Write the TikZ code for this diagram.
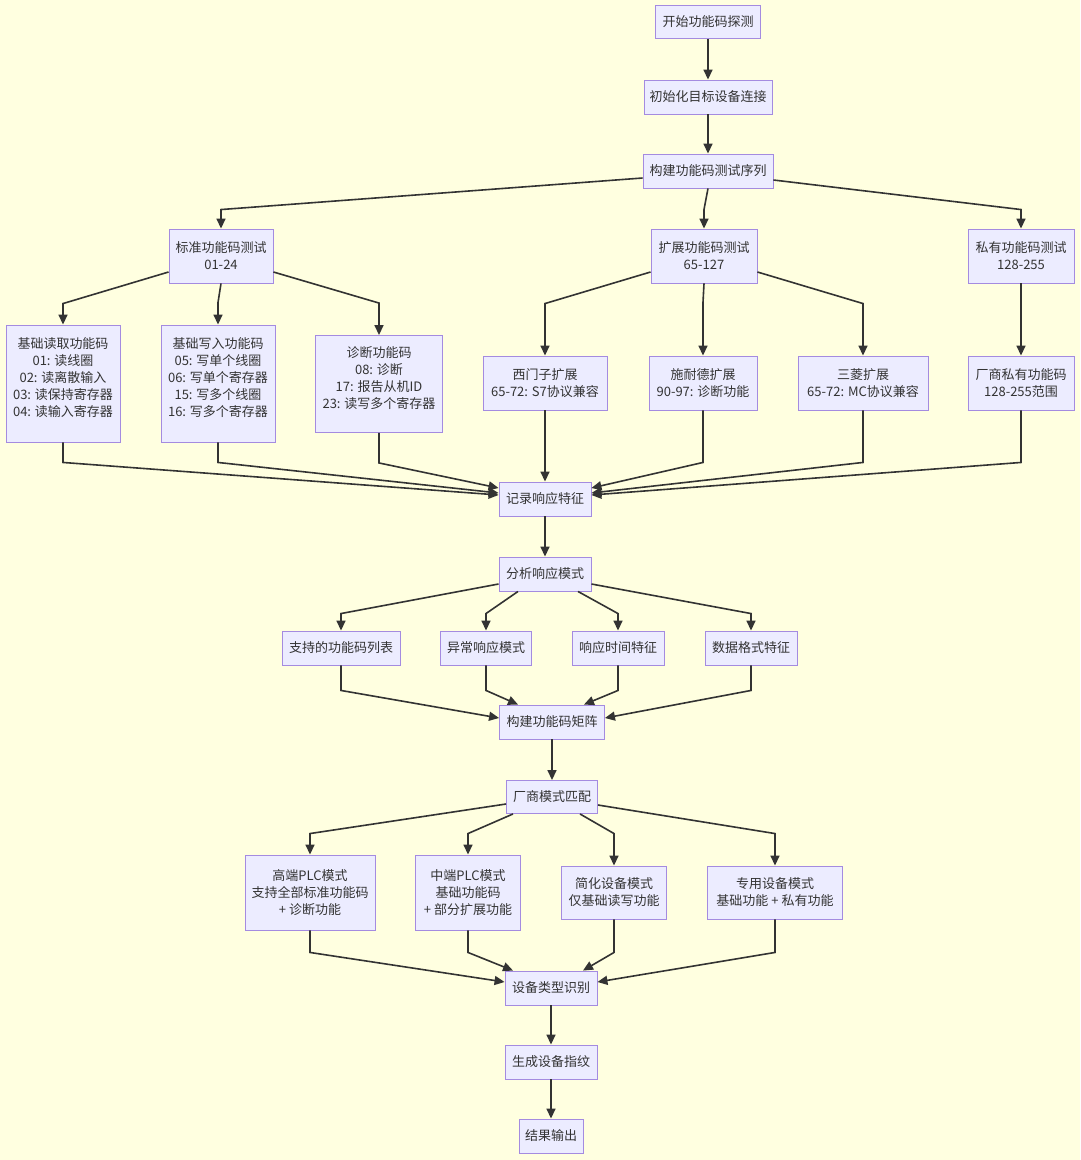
\documentclass[tikz,border=0pt]{standalone}
\usepackage{fontspec}
\setmainfont{Noto Sans CJK SC}
\usepackage{xcolor}
\usepackage{tikz}
\usetikzlibrary{positioning,calc,arrows.meta}
\definecolor{bgyellow}{HTML}{FFFFE0}
\definecolor{boxfill}{HTML}{ECECFF}
\definecolor{boxline}{HTML}{A48BE0}
\definecolor{linegray}{HTML}{333333}
\tikzset{
    box/.style={draw=boxline, fill=boxfill, line width=0.9pt, text=linegray,
        align=center, inner sep=3pt, font=\fontsize{13pt}{17pt}\selectfont},
    boxsize/.style 2 args={minimum width=#1pt, minimum height=#2pt},
    flow/.style={draw=linegray, line width=1.6pt, -{Triangle[length=10pt,width=9pt]}},
}

\begin{document}
\begin{tikzpicture}[x=1pt, y=-1pt]
    \fill[bgyellow] (0,0) rectangle (1080,1160);

    % probing set-up
    \node[box, boxsize={105}{33}] (start) at (708,22) {开始功能码探测};
    \node[box, boxsize={128}{34}] (init) at (708,97) {初始化目标设备连接};
    \node[box, boxsize={130}{34}] (build) at (708,171) {构建功能码测试序列};

    \node[box, boxsize={104}{54}] (std) at (221,256) {标准功能码测试\\01-24};
    \node[box, boxsize={106}{54}] (ext) at (704,256) {扩展功能码测试\\65-127};
    \node[box, boxsize={106}{54}] (priv) at (1021,256) {私有功能码测试\\128-255};

    \node[box, boxsize={114}{117}] (read) at (63,383.5) {基础读取功能码\\01: 读线圈\\02: 读离散输入\\03: 读保持寄存器\\04: 读输入寄存器\\[-5pt]\mbox{}};
    \node[box, boxsize={114}{117}] (write) at (218,383.5) {基础写入功能码\\05: 写单个线圈\\06: 写单个寄存器\\15: 写多个线圈\\16: 写多个寄存器\\[-5pt]\mbox{}};
    \node[box, boxsize={127}{97}] (diag) at (379,384) {诊断功能码\\08: 诊断\\17: 报告从机ID\\23: 读写多个寄存器\\[-5pt]\mbox{}};
    \node[box, boxsize={124}{54}] (siemens) at (545,383) {西门子扩展\\65-72: S7协议兼容};
    \node[box, boxsize={108}{54}] (schneider) at (703,383) {施耐德扩展\\90-97: 诊断功能};
    \node[box, boxsize={130}{54}] (mitsubishi) at (863,383) {三菱扩展\\65-72: MC协议兼容};
    \node[box, boxsize={106}{54}] (vendor) at (1021,383) {厂商私有功能码\\128-255范围};

    % response analysis
    \node[box, boxsize={92}{34}] (record) at (545,499) {记录响应特征};
    \node[box, boxsize={92}{34}] (analyze) at (545,574) {分析响应模式};
    \node[box, boxsize={118}{34}] (support) at (341,648) {支持的功能码列表};
    \node[box, boxsize={91}{34}] (abnormal) at (486,648) {异常响应模式};
    \node[box, boxsize={92}{34}] (timing) at (618,648) {响应时间特征};
    \node[box, boxsize={92}{34}] (format) at (751,648) {数据格式特征};
    \node[box, boxsize={105}{34}] (matrix) at (552,722) {构建功能码矩阵};

    % device matching
    \node[box, boxsize={91}{33}] (vendmatch) at (552,797) {厂商模式匹配};
    \node[box, boxsize={130}{75}] (high) at (310,892.5) {高端PLC模式\\支持全部标准功能码\\+ 诊断功能};
    \node[box, boxsize={105}{75}] (mid) at (468,892.5) {中端PLC模式\\基础功能码\\+ 部分扩展功能};
    \node[box, boxsize={105}{53}] (simple) at (614,892.5) {简化设备模式\\仅基础读写功能};
    \node[box, boxsize={135}{53}] (special) at (775,892.5) {专用设备模式\\基础功能 + 私有功能};
    \node[box, boxsize={92}{34}] (devtype) at (551,988) {设备类型识别};
    \node[box, boxsize={92}{34}] (fingerprint) at (551,1062) {生成设备指纹};
    \node[box, boxsize={64}{34}] (result) at (551,1136) {结果输出};

    % straight links
    \foreach \a/\b in {start/init, init/build, priv/vendor, siemens/record, record/analyze,
        matrix/vendmatch, devtype/fingerprint, fingerprint/result}
        \draw[flow] (\a) -- (\b);

    % fan out from the test sequence
    \draw[flow] ([yshift=-7pt]build.west) -- ($(std.north)+(0,-19)$) -- (std.north);
    \draw[flow] (build.south) -- ($(ext.north)+(0,-19)$) -- (ext.north);
    \draw[flow] ([yshift=-9pt]build.east) -- ($(priv.north)+(0,-19)$) -- (priv.north);

    \draw[flow] ([yshift=-16pt]std.west) -- ($(read.north)+(0,-21)$) -- (read.north);
    \draw[flow] (std.south) -- ($(write.north)+(0,-22)$) -- (write.north);
    \draw[flow] ([yshift=-16pt]std.east) -- ($(diag.north)+(0,-32)$) -- (diag.north);
    \draw[flow] ([yshift=-16pt]ext.west) -- ($(siemens.north)+(0,-52)$) -- (siemens.north);
    \draw[flow] (ext.south) -- ($(schneider.north)+(0,-53)$) -- (schneider.north);
    \draw[flow] ([yshift=-16pt]ext.east) -- ($(mitsubishi.north)+(0,-52)$) -- (mitsubishi.north);

    % merge into the record step
    \draw[flow] (read.south) -- ++(0,20) -- ([yshift=4pt]record.west);
    \draw[flow] (write.south) -- ++(0,20) -- ([yshift=6pt]record.west);
    \draw[flow] (diag.south) -- ++(0,30) -- ([yshift=11pt]record.west);
    \draw[flow] (schneider.south) -- ++(0,52) -- ([yshift=11pt]record.east);
    \draw[flow] (mitsubishi.south) -- ++(0,52) -- ([yshift=6pt]record.east);
    \draw[flow] (vendor.south) -- ++(0,52) -- ([yshift=4pt]record.east);

    \draw[flow] ([yshift=-10pt]analyze.west) -- ($(support.north)+(0,-17)$) -- (support.north);
    \draw[flow] ([xshift=-27pt]analyze.south) -- ($(abnormal.north)+(0,-17)$) -- (abnormal.north);
    \draw[flow] ([xshift=33pt]analyze.south) -- ($(timing.north)+(0,-17)$) -- (timing.north);
    \draw[flow] ([yshift=-10pt]analyze.east) -- ($(format.north)+(0,-17)$) -- (format.north);

    \draw[flow] (support.south) -- ++(0,25) -- ([yshift=4pt]matrix.west);
    \draw[flow] (abnormal.south) -- ++(0,25) -- ([xshift=-34pt]matrix.north);
    \draw[flow] (timing.south) -- ++(0,25) -- ([xshift=32pt]matrix.north);
    \draw[flow] (format.south) -- ++(0,25) -- ([yshift=4pt]matrix.east);

    \draw[flow] ([yshift=-7pt]vendmatch.west) -- ($(high.north)+(0,-21)$) -- (high.north);
    \draw[flow] ([xshift=-39pt]vendmatch.south) -- ($(mid.north)+(0,-21)$) -- (mid.north);
    \draw[flow] ([xshift=28pt]vendmatch.south) -- ($(simple.north)+(0,-32)$) -- (simple.north);
    \draw[flow] ([yshift=-8pt]vendmatch.east) -- ($(special.north)+(0,-32)$) -- (special.north);

    \draw[flow] (high.south) -- ++(0,22) -- ([yshift=6pt]devtype.west);
    \draw[flow] (mid.south) -- ++(0,22) -- ([xshift=-38pt]devtype.north);
    \draw[flow] (simple.south) -- ++(0,33) -- ([xshift=32pt]devtype.north);
    \draw[flow] (special.south) -- ++(0,33) -- ([yshift=6pt]devtype.east);
\end{tikzpicture}
\end{document}
